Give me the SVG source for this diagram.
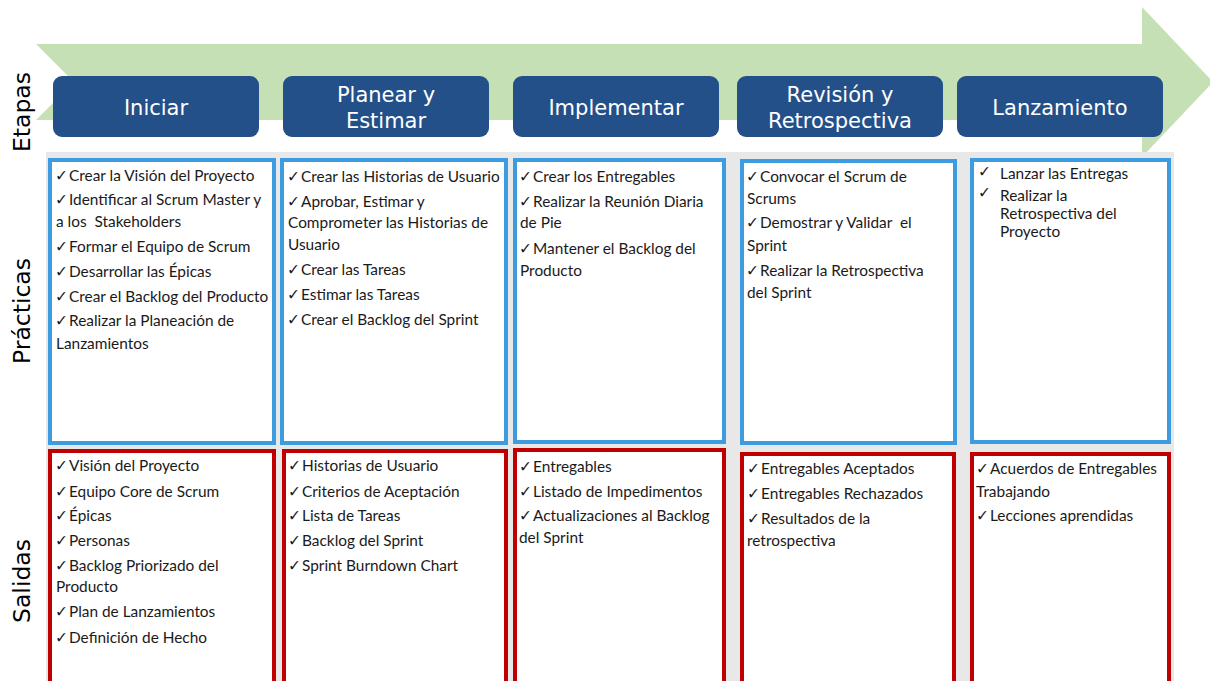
<svg xmlns="http://www.w3.org/2000/svg" width="1210" height="681" viewBox="0 0 1210 681">
<style>
.hdr{fill:#245089}
.ht{font-family:"DejaVu Sans",Verdana,sans-serif;font-size:21px;fill:#ffffff;text-anchor:middle}
.lbl{font-family:"DejaVu Sans",Verdana,sans-serif;font-size:23.5px;fill:#000000;text-anchor:middle}
.prac{fill:#ffffff;stroke:#3D9BE0;stroke-width:4}
.sal{fill:#ffffff;stroke:#C00000;stroke-width:4}
.t{font-family:Lato,"Liberation Sans",sans-serif;font-size:15.4px;fill:#1a1a1a}
.ck{font-family:"DejaVu Sans",sans-serif;font-size:15.5px;font-weight:bold;fill:#1a1a1a}
</style>
<rect width="1210" height="681" fill="#ffffff"/>
<g id="flecha">
<polygon points="36,44 1142,44 1142,7 1213,82 1142,157 1142,120 36,120 74,82" fill="#C5E0B4"/>
</g>
<rect id="fondo" x="46" y="152" width="1128" height="529" fill="#E8E8E8"/>
<g id="etiquetas">
<text class="lbl" transform="translate(30,112) rotate(-90)">Etapas</text>
<text class="lbl" transform="translate(30,311) rotate(-90)">Prácticas</text>
<text class="lbl" transform="translate(30,581) rotate(-90)">Salidas</text>
</g>
<g id="etapa-iniciar">
<rect class="hdr" x="53" y="76" width="206" height="61" rx="9"/>
<text class="ht" x="156" y="115">Iniciar</text>
</g>
<g id="etapa-planear">
<rect class="hdr" x="283" y="76" width="206" height="61" rx="9"/>
<text class="ht" x="386" y="102">Planear y</text>
<text class="ht" x="386" y="128">Estimar</text>
</g>
<g id="etapa-implementar">
<rect class="hdr" x="513" y="76" width="206" height="61" rx="9"/>
<text class="ht" x="616" y="115">Implementar</text>
</g>
<g id="etapa-revision">
<rect class="hdr" x="737" y="76" width="206" height="61" rx="9"/>
<text class="ht" x="840" y="102">Revisión y</text>
<text class="ht" x="840" y="128">Retrospectiva</text>
</g>
<g id="etapa-lanzamiento">
<rect class="hdr" x="957" y="76" width="206" height="61" rx="9"/>
<text class="ht" x="1060" y="115">Lanzamiento</text>
</g>

<g id="practicas-iniciar">
<rect class="prac" x="50" y="160" width="224" height="283"/>
<text class="ck" x="55" y="181">✓</text><text class="t" x="69" y="181">Crear la Visión del Proyecto</text>
<text class="ck" x="55" y="205">✓</text><text class="t" x="69" y="205">Identificar al Scrum Master y</text>
<text class="t" x="56" y="227" xml:space="preserve">a los  Stakeholders</text>
<text class="ck" x="55" y="252">✓</text><text class="t" x="69" y="252">Formar el Equipo de Scrum</text>
<text class="ck" x="55" y="277">✓</text><text class="t" x="69" y="277">Desarrollar las Épicas</text>
<text class="ck" x="55" y="302">✓</text><text class="t" x="69" y="302">Crear el Backlog del Producto</text>
<text class="ck" x="55" y="326">✓</text><text class="t" x="69" y="326">Realizar la Planeación de</text>
<text class="t" x="56" y="349">Lanzamientos</text>
</g>
<g id="practicas-planear">
<rect class="prac" x="282" y="160" width="224" height="283"/>
<text class="ck" x="287" y="182">✓</text><text class="t" x="301" y="182">Crear las Historias de Usuario</text>
<text class="ck" x="287" y="207">✓</text><text class="t" x="301" y="207">Aprobar, Estimar y</text>
<text class="t" x="288" y="228">Comprometer las Historias de</text>
<text class="t" x="288" y="250">Usuario</text>
<text class="ck" x="287" y="275">✓</text><text class="t" x="301" y="275">Crear las Tareas</text>
<text class="ck" x="287" y="300">✓</text><text class="t" x="301" y="300">Estimar las Tareas</text>
<text class="ck" x="287" y="325">✓</text><text class="t" x="301" y="325">Crear el Backlog del Sprint</text>
</g>
<g id="practicas-implementar">
<rect class="prac" x="515" y="160" width="209" height="282"/>
<text class="ck" x="519" y="182">✓</text><text class="t" x="533" y="182">Crear los Entregables</text>
<text class="ck" x="519" y="207">✓</text><text class="t" x="533" y="207">Realizar la Reunión Diaria</text>
<text class="t" x="520" y="228">de Pie</text>
<text class="ck" x="519" y="254">✓</text><text class="t" x="533" y="254">Mantener el Backlog del</text>
<text class="t" x="520" y="276">Producto</text>
</g>
<g id="practicas-revision">
<rect class="prac" x="742" y="161" width="213" height="282"/>
<text class="ck" x="746" y="182">✓</text><text class="t" x="760" y="182">Convocar el Scrum de</text>
<text class="t" x="747" y="204">Scrums</text>
<text class="ck" x="746" y="228">✓</text><text class="t" x="760" y="228" xml:space="preserve">Demostrar y Validar  el</text>
<text class="t" x="747" y="251">Sprint</text>
<text class="ck" x="746" y="276">✓</text><text class="t" x="760" y="276">Realizar la Retrospectiva</text>
<text class="t" x="747" y="298">del Sprint</text>
</g>
<g id="practicas-lanzamiento">
<rect class="prac" x="972" y="160" width="197" height="282"/>
<text class="ck" x="978" y="177">✓</text><text class="t" x="1000" y="179">Lanzar las Entregas</text>
<text class="ck" x="978" y="198">✓</text><text class="t" x="1000" y="201">Realizar la</text>
<text class="t" x="1000" y="219">Retrospectiva del</text>
<text class="t" x="1000" y="237">Proyecto</text>
</g>

<g id="salidas-iniciar">
<rect class="sal" x="50" y="451" width="224" height="240"/>
<text class="ck" x="55" y="471">✓</text><text class="t" x="69" y="471">Visión del Proyecto</text>
<text class="ck" x="55" y="497">✓</text><text class="t" x="69" y="497">Equipo Core de Scrum</text>
<text class="ck" x="55" y="521">✓</text><text class="t" x="69" y="521">Épicas</text>
<text class="ck" x="55" y="546">✓</text><text class="t" x="69" y="546">Personas</text>
<text class="ck" x="55" y="571">✓</text><text class="t" x="69" y="571">Backlog Priorizado del</text>
<text class="t" x="56" y="592">Producto</text>
<text class="ck" x="55" y="617">✓</text><text class="t" x="69" y="617">Plan de Lanzamientos</text>
<text class="ck" x="55" y="643">✓</text><text class="t" x="69" y="643">Definición de Hecho</text>
</g>
<g id="salidas-planear">
<rect class="sal" x="284" y="451" width="222" height="240"/>
<text class="ck" x="288" y="471">✓</text><text class="t" x="302" y="471">Historias de Usuario</text>
<text class="ck" x="288" y="497">✓</text><text class="t" x="302" y="497">Criterios de Aceptación</text>
<text class="ck" x="288" y="521">✓</text><text class="t" x="302" y="521">Lista de Tareas</text>
<text class="ck" x="288" y="546">✓</text><text class="t" x="302" y="546">Backlog del Sprint</text>
<text class="ck" x="288" y="571">✓</text><text class="t" x="302" y="571">Sprint Burndown Chart</text>
</g>
<g id="salidas-implementar">
<rect class="sal" x="515" y="450" width="209" height="240"/>
<text class="ck" x="519" y="472">✓</text><text class="t" x="533" y="472">Entregables</text>
<text class="ck" x="519" y="497">✓</text><text class="t" x="533" y="497">Listado de Impedimentos</text>
<text class="ck" x="519" y="521">✓</text><text class="t" x="533" y="521">Actualizaciones al Backlog</text>
<text class="t" x="519" y="543">del Sprint</text>
</g>
<g id="salidas-revision">
<rect class="sal" x="742" y="454" width="212" height="240"/>
<text class="ck" x="747" y="474">✓</text><text class="t" x="761" y="474">Entregables Aceptados</text>
<text class="ck" x="747" y="499">✓</text><text class="t" x="761" y="499">Entregables Rechazados</text>
<text class="ck" x="747" y="524">✓</text><text class="t" x="761" y="524">Resultados de la</text>
<text class="t" x="747" y="546">retrospectiva</text>
</g>
<g id="salidas-lanzamiento">
<rect class="sal" x="972" y="454" width="197" height="240"/>
<text class="ck" x="976" y="474">✓</text><text class="t" x="990" y="474">Acuerdos de Entregables</text>
<text class="t" x="976" y="497">Trabajando</text>
<text class="ck" x="976" y="521">✓</text><text class="t" x="990" y="521">Lecciones aprendidas</text>
</g>
<g id="conectores"></g>
</svg>
